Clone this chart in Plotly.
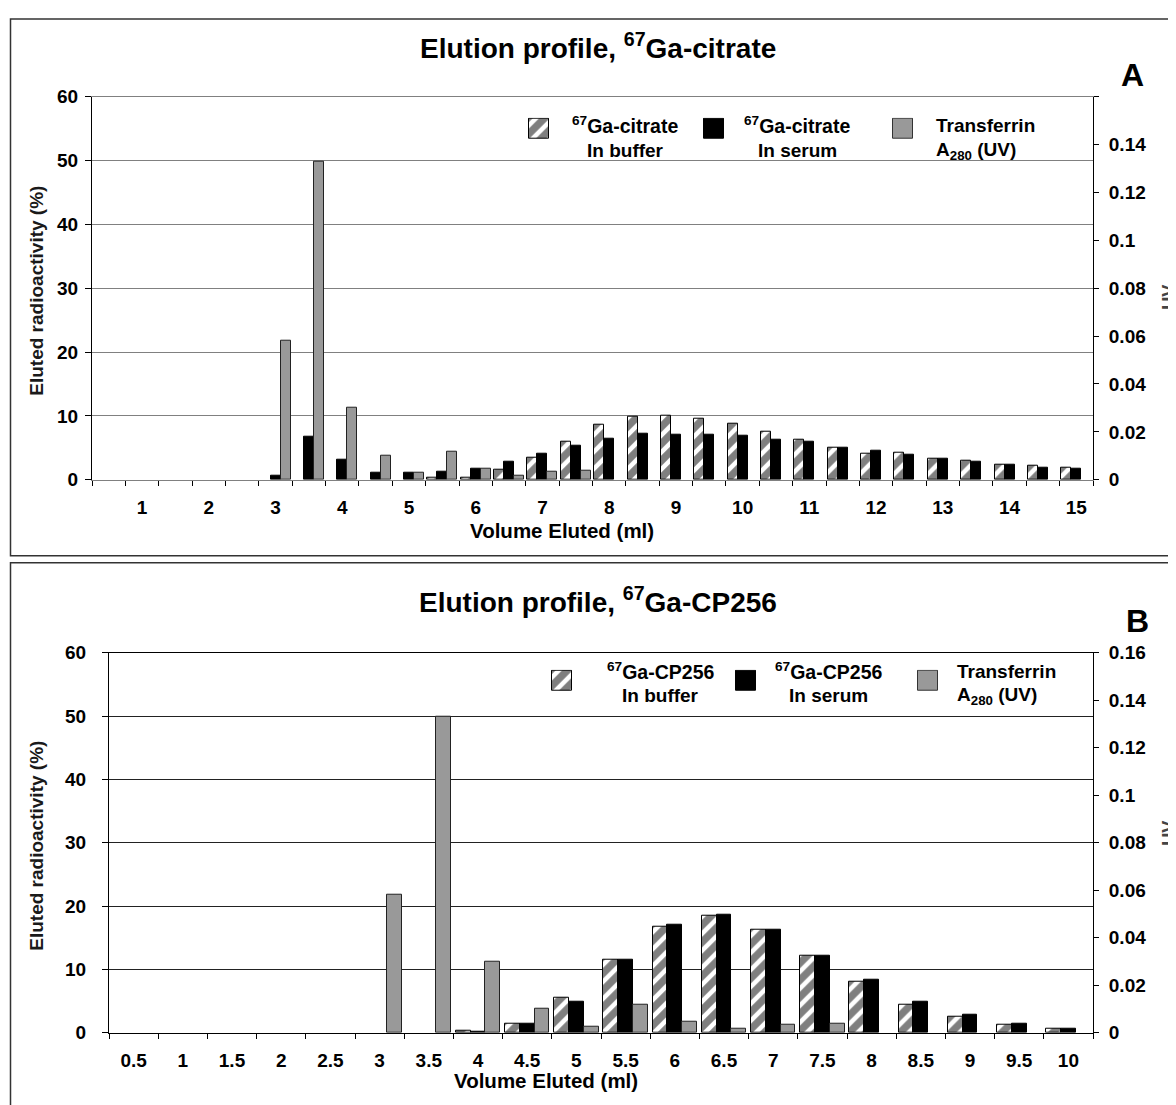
import plotly.graph_objects as go

# ---------------- data (panel A: 67Ga-citrate) ----------------
volume_a = [0.5, 1.0, 1.5, 2.0, 2.5, 3.0, 3.5, 4.0, 4.5, 5.0, 5.5, 6.0, 6.5, 7.0, 7.5,
            8.0, 8.5, 9.0, 9.5, 10.0, 10.5, 11.0, 11.5, 12.0, 12.5, 13.0, 13.5, 14.0, 14.5, 15.0]
citrate_buffer = [0, 0, 0, 0, 0, 0, 0, 0, 0, 0, 0.25, 0.35, 1.6, 3.5, 5.9,
                  8.6, 9.8, 10.1, 9.6, 8.8, 7.6, 6.25, 5.05, 4.15, 4.3, 3.3, 3.0, 2.35, 2.15, 1.95]
citrate_serum = [0, 0, 0, 0, 0, 0.6, 6.8, 3.2, 1.1, 1.1, 1.25, 1.8, 2.75, 4.05, 5.35,
                 6.45, 7.2, 7.05, 7.05, 6.85, 6.3, 5.9, 5.05, 4.55, 3.9, 3.3, 2.75, 2.35, 1.95, 1.8]
transferrin_a = [0, 0, 0, 0, 0, 0.058, 0.133, 0.030, 0.0101, 0.0028, 0.0117, 0.0047, 0.0016, 0.0032, 0.0036,
                 0, 0, 0, 0, 0, 0, 0, 0, 0, 0, 0, 0, 0, 0, 0]
ticklabels_a = ["1", "2", "3", "4", "5", "6", "7", "8", "9", "10", "11", "12", "13", "14", "15"]

# ---------------- data (panel B: 67Ga-CP256) ----------------
volume_b = [0.5, 1.0, 1.5, 2.0, 2.5, 3.0, 3.5, 4.0, 4.5, 5.0,
            5.5, 6.0, 6.5, 7.0, 7.5, 8.0, 8.5, 9.0, 9.5, 10.0]
cp256_buffer = [0, 0, 0, 0, 0, 0, 0, 0.37, 1.4, 5.55, 11.5, 16.8, 18.4, 16.2, 12.2, 8.0, 4.5, 2.5, 1.2, 0.57]
cp256_serum = [0, 0, 0, 0, 0, 0, 0, 0.2, 1.4, 4.9, 11.5, 17.0, 18.6, 16.3, 12.2, 8.3, 4.9, 2.8, 1.45, 0.67]
transferrin_b = [0, 0, 0, 0, 0, 0.058, 0.133, 0.030, 0.0101, 0.0025, 0.0117, 0.0048, 0.0017, 0.0032, 0.0039,
                 0, 0, 0, 0, 0]
ticklabels_b = ["0.5", "1", "1.5", "2", "2.5", "3", "3.5", "4", "4.5", "5",
                "5.5", "6", "6.5", "7", "7.5", "8", "8.5", "9", "9.5", "10"]

uv_ticks = [0, 0.02, 0.04, 0.06, 0.08, 0.1, 0.12, 0.14, 0.16]
uv_labels_a = ["0", "0.02", "0.04", "0.06", "0.08", "0.1", "0.12", "0.14", ""]
uv_labels_b = ["0", "0.02", "0.04", "0.06", "0.08", "0.1", "0.12", "0.14", "0.16"]

# ---------------- layout helpers ----------------
W, H = 1168, 1108
OFFX = 8
OFFY, SY = 17.3, 0.981   # observed vertical placement of the page in the snapshot
def px(x): return (x - OFFX) / W
def py(y): return 1 - ((y - OFFY) / SY) / H

FONT = "Liberation Sans, Arial, sans-serif"
HATCH = dict(shape="/", fgcolor="black", bgcolor="white", size=12, solidity=0.62)
GRAY = "#999999"
BW = 0.15
OFFS = [-0.225, -0.075, 0.075]

def shown(vals):
    return [v if v > 0 else None for v in vals]

fig = go.Figure()

def add_panel(vol, buf, ser, tra, xa, ya, ya2):
    fig.add_trace(go.Bar(x=vol, y=shown(buf), width=BW, offset=OFFS[0], xaxis=xa, yaxis=ya,
                         marker=dict(color="white", line=dict(color="black", width=1), pattern=HATCH),
                         showlegend=False))
    fig.add_trace(go.Bar(x=vol, y=shown(ser), width=BW, offset=OFFS[1], xaxis=xa, yaxis=ya,
                         marker=dict(color="black", line=dict(color="black", width=1)),
                         showlegend=False))
    fig.add_trace(go.Bar(x=vol, y=shown(tra), width=BW, offset=OFFS[2], xaxis=xa, yaxis=ya2,
                         marker=dict(color=GRAY, line=dict(color="#222222", width=1)),
                         showlegend=False))

add_panel(volume_a, citrate_buffer, citrate_serum, transferrin_a, "x", "y", "y2")
add_panel(volume_b, cp256_buffer, cp256_serum, transferrin_b, "x2", "y4", "y5")

tickfont = dict(family=FONT, size=19, color="black", weight="bold")

def bounds(vol):
    step = vol[1] - vol[0]
    return [v - step / 2 for v in vol] + [vol[-1] + step / 2]

def xaxis_cfg(dom, anchor, vol, labels, lc):
    step = vol[1] - vol[0]
    return dict(domain=dom, anchor=anchor, range=[vol[0] - step / 2, vol[-1] + step / 2],
                tickmode="array", tickvals=[float(t) for t in labels], ticktext=labels,
                ticks="", showline=True, mirror=True, linecolor=lc, linewidth=1, showgrid=False,
                zeroline=False, tickfont=tickfont, ticklabelstandoff=10,
                minor=dict(tickmode="array", tickvals=bounds(vol), ticks="outside", ticklen=5,
                           tickcolor="black", tickwidth=1, showgrid=False))

def yaxis_cfg(dom, anchor, gc, standoff):
    return dict(domain=dom, anchor=anchor, range=[0, 60], tickmode="linear", tick0=0, dtick=10,
                ticks="outside", ticklen=6, tickcolor="black", showline=True, linecolor="black",
                linewidth=1, showgrid=True, gridcolor=gc, gridwidth=1, zeroline=False,
                tickfont=tickfont, ticklabelstandoff=standoff)

def y2_cfg(over, anchor, labels):
    return dict(overlaying=over, anchor=anchor, side="right", range=[0, 0.16],
                tickmode="array", tickvals=uv_ticks, ticktext=labels, ticks="outside", ticklen=5,
                tickcolor="black", showline=True, linecolor="black", linewidth=1, showgrid=False,
                zeroline=False, tickfont=tickfont, ticklabelstandoff=6)

def y3_cfg(over, anchor):
    return dict(overlaying=over, anchor=anchor, side="right", range=[0, 0.16],
                tickmode="array", tickvals=uv_ticks, ticks="inside", ticklen=5, tickcolor="black",
                showticklabels=False, showline=False, showgrid=False, zeroline=False)

layout = dict(
    width=W, height=H, margin=dict(l=0, r=0, t=0, b=0),
    paper_bgcolor="white", plot_bgcolor="white", barmode="overlay", bargap=0,
    font=dict(family=FONT, color="black"),
    xaxis=xaxis_cfg([px(92), px(1093)], "y", volume_a, ticklabels_a, "#808080"),
    yaxis=yaxis_cfg([py(479), py(96)], "x", "#808080", 3),
    yaxis2=y2_cfg("y", "x", uv_labels_a),
    yaxis3=y3_cfg("y", "x"),
    xaxis2=xaxis_cfg([px(109), px(1093)], "y4", volume_b, ticklabels_b, "black"),
    yaxis4=yaxis_cfg([py(1032), py(652)], "x2", "#222222", 12),
    yaxis5=y2_cfg("y4", "x2", uv_labels_b),
    yaxis6=y3_cfg("y4", "x2"),
)

# legend swatches as tiny subplots (so the hatch pattern comes from the library)
swatches = [
    ((528, 550, 117, 139), "hatch"), ((703, 725, 117, 139), "black"), ((892, 914, 117, 139), "gray"),
    ((551, 573, 669, 691), "hatch"), ((735, 757, 669, 691), "black"), ((917, 939, 669, 691), "gray"),
]
for i, ((x0, x1, y0, y1), kind) in enumerate(swatches):
    n = i + 3
    xa, ya = f"x{n}", f"y{n + 4}"
    if kind == "hatch":
        mk = dict(color="white", line=dict(color="black", width=1), pattern=HATCH)
    elif kind == "black":
        mk = dict(color="black", line=dict(color="black", width=1))
    else:
        mk = dict(color=GRAY, line=dict(color="#333333", width=1))
    fig.add_trace(go.Bar(x=[0.5], y=[1], width=1, xaxis=xa, yaxis=ya, marker=mk,
                         showlegend=False, hoverinfo="skip"))
    layout[f"xaxis{n}"] = dict(domain=[px(x0), px(x1)], anchor=ya, range=[-0.05, 1.05], visible=False)
    layout[f"yaxis{n + 4}"] = dict(domain=[py(y1), py(y0)], anchor=xa, range=[-0.05, 1.05], visible=False)

fig.update_layout(**layout)

def ann(text, x, y, size, xanchor="center", angle=0, color="black"):
    fig.add_annotation(text=text, x=px(x), y=py(y), xref="paper", yref="paper", showarrow=False,
                       xanchor=xanchor, yanchor="middle", textangle=angle,
                       font=dict(family=FONT, size=size, color=color, weight="bold"))

# titles
ann("Elution profile, <sup>67</sup>Ga-citrate", 598, 45, 28)
ann("A", 1132, 74, 32)
ann("Elution profile, <sup>67</sup>Ga-CP256", 598, 599, 28)
ann("B", 1137, 620, 32)
# axis titles
ann("Eluted radioactivity (%)", 37, 290, 19, angle=-90, color="#1a1a1a")
ann("Eluted radioactivity (%)", 37, 845, 19, angle=-90, color="#1a1a1a")
ann("UV<sub>280</sub>", 1171, 286, 18, angle=-90, color="#444444")
ann("UV<sub>280</sub>", 1171, 822, 18, angle=-90, color="#444444")
ann("Volume Eluted (ml)", 562, 530, 20.5)
ann("Volume Eluted (ml)", 546, 1080, 20.5)
# legend texts
ann("<sup>67</sup>Ga-citrate", 625, 124, 19.5)
ann("In buffer", 625, 150, 19)
ann("<sup>67</sup>Ga-citrate", 797, 124, 19.5)
ann("In serum", 797, 150, 19)
ann("Transferrin", 934, 125, 19, xanchor="left")
ann("A<sub>280</sub> (UV)", 934, 150, 19, xanchor="left")
ann("<sup>67</sup>Ga-CP256", 660, 670, 19.5)
ann("In buffer", 660, 695, 19)
ann("<sup>67</sup>Ga-CP256", 828, 670, 19.5)
ann("In serum", 828, 695, 19)
ann("Transferrin", 955, 671, 19, xanchor="left")
ann("A<sub>280</sub> (UV)", 955, 695, 19, xanchor="left")

# outer frames of the two panels
fig.add_shape(type="rect", xref="paper", yref="paper", x0=px(10.5), x1=px(1200), y0=py(555), y1=py(18.2),
              line=dict(color="#333333", width=1.5), fillcolor="rgba(0,0,0,0)", layer="below")
fig.add_shape(type="rect", xref="paper", yref="paper", x0=px(10.5), x1=px(1200), y0=py(1160), y1=py(562),
              line=dict(color="#333333", width=1.5), fillcolor="rgba(0,0,0,0)", layer="below")

fig.write_html("out.html")
